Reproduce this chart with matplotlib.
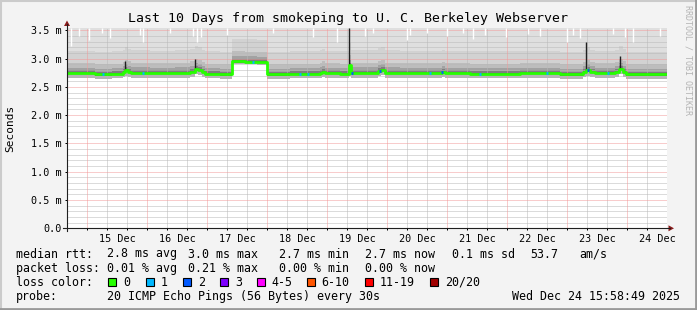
import numpy as np
import matplotlib.pyplot as plt
from matplotlib.patches import Rectangle, Polygon
from matplotlib.lines import Line2D

W, H = 697, 310
MONO = 'DejaVu Sans Mono'

# time axis: hours since Mon 14 Dec 16:00 (10 days shown)
med_t = [0, 11.2, 18, 22.4, 23.2, 24.4, 25.6, 33, 43, 49,
         51, 52.4, 54, 55, 61, 66, 71, 76, 80, 89,
         101, 102, 103.2, 109, 112.8, 113.6, 124.4, 125.6, 127, 133,
         150, 151.2, 161, 181, 197, 206.4, 207.6, 209, 211, 219,
         220.8, 222.4, 223.6]
# median rtt in ms
med_v = [2.74, 2.72, 2.73, 2.76, 2.80, 2.77, 2.75, 2.74, 2.75, 2.77,
         2.82, 2.80, 2.76, 2.73, 2.72, 2.95, 2.94, 2.935, 2.72, 2.73,
         2.75, 2.77, 2.74, 2.73, 2.88, 2.75, 2.78, 2.80, 2.75, 2.74,
         2.76, 2.74, 2.73, 2.74, 2.72, 2.76, 2.80, 2.76, 2.74, 2.76,
         2.82, 2.77, 2.72]
# fastest ping per interval (bottom of the smoke)
floor_v = [2.65, 2.64, 2.65, 2.67, 2.70, 2.68, 2.66, 2.65, 2.66, 2.68,
           2.72, 2.71, 2.67, 2.65, 2.64, 2.90, 2.90, 2.89, 2.64, 2.65,
           2.66, 2.68, 2.66, 2.65, 2.70, 2.66, 2.69, 2.71, 2.66, 2.65,
           2.67, 2.66, 2.65, 2.66, 2.64, 2.67, 2.70, 2.67, 2.66, 2.67,
           2.72, 2.68, 2.64]
# smoke bands above the median (offset in ms) and their shades
smoke_up = [0.02, 0.05, 0.10, 0.18, 0.40]
smoke_shade = ['#555555', '#7e7e7e', '#a2a2a2', '#bdbdbd', '#d2d2d2']
smoke_top_shade = '#dfdfdf'

# dark spikes (all pings slow)
spike_t = [23.2, 51.2, 112.8, 207.6, 221.0]
spike_v = [2.95, 3.00, 3.54, 3.30, 3.05]

# white gaps at the top of the smoke (max ping below the top)
gap_t = [1.6, 4.8, 8.8, 14, 17.2, 29.2, 30.4, 41.2, 50.4, 51.8, 53.6, 64,
         82.4, 98.4, 108, 119.2, 122.4, 136, 137.2, 144, 152, 158.4, 162.4,
         167.2, 175.6, 184.4, 189.2, 200, 202.4, 205.2, 218.4, 223.2, 226.4, 237.2]
gap_v = [3.22, 3.40, 3.33, 3.45, 3.36, 3.42, 3.30, 3.45, 3.40, 3.30, 3.38, 3.42,
         3.45, 3.38, 3.30, 3.40, 3.46, 3.32, 3.42, 3.45, 3.40, 3.45, 3.35,
         3.42, 3.38, 3.44, 3.40, 3.30, 3.42, 3.36, 3.44, 3.38, 3.30, 3.40]

# packet loss events on the median line
loss_t = [14.4, 30.4, 74.4, 93.2, 96.4, 114, 125.2, 145.2, 150, 165.2, 192, 208.4, 216.4]
loss_n = [1, 1, 1, 1, 1, 2, 2, 1, 2, 1, 1, 2, 1]

loss_labels = ['0', '1', '2', '3', '4-5', '6-10', '11-19', '20/20']
loss_colors = ['#26ff00', '#00b8ff', '#0059ff', '#7e00ff', '#ff00ff', '#ff5500', '#ff0000', '#a10000']

day_labels = ['15 Dec', '16 Dec', '17 Dec', '18 Dec', '19 Dec',
              '20 Dec', '21 Dec', '22 Dec', '23 Dec', '24 Dec']
y_ticks = [0.0, 0.5, 1.0, 1.5, 2.0, 2.5, 3.0, 3.5]
y_labels = ['0.0', '0.5 m', '1.0 m', '1.5 m', '2.0 m', '2.5 m', '3.0 m', '3.5 m']

T_END = 240
Y_TOP = 3.535


def px(x, y):
    return x / W, 1 - y / H


fig = plt.figure(figsize=(W / 100, H / 100), dpi=100, facecolor='#f3f3f3')
ax = fig.add_axes([67 / W, (H - 228.3) / H, 600 / W, 200 / H])
ax.set_facecolor('white')
ax.set_xlim(0, T_END)
ax.set_ylim(0, Y_TOP)

t = np.array(med_t + [T_END])
m = np.array(med_v + [med_v[-1]])
fl = np.array(floor_v + [floor_v[-1]])

# smoke below the median
ax.fill_between(t, fl, m - 0.02, step='post', color='#b4b4b4', lw=0, zorder=1)
ax.fill_between(t, m - 0.02, m, step='post', color='#606060', lw=0, zorder=1)
# smoke above the median
lo = m
for off, c in zip(smoke_up, smoke_shade):
    ax.fill_between(t, lo, m + off, step='post', color=c, lw=0, zorder=1)
    lo = m + off
ax.fill_between(t, lo, Y_TOP, step='post', color=smoke_top_shade, lw=0, zorder=1)

# grid
hours8 = np.arange(8, T_END, 8)
midnights = np.arange(8, T_END, 24)
minor_x = [h for h in hours8 if (h - 8) % 24 != 0]
ax.vlines(minor_x, 0, Y_TOP, color='#b8b8b8', lw=0.72, ls=(0, (1, 1)), zorder=2.5)
ax.vlines(midnights, 0, Y_TOP, color='#f39a9a', lw=0.72, ls=(0, (1, 1)), zorder=2.6)
tenths = np.round(np.arange(0.1, Y_TOP, 0.1), 2)
minor_y = [v for v in tenths if abs(v * 2 - round(v * 2)) > 1e-6]
ax.hlines(minor_y, 0, T_END, color='#b8b8b8', lw=0.72, ls=(0, (1, 1)), zorder=2.5)
ax.hlines(y_ticks[1:], 0, T_END, color='#f39a9a', lw=0.72, ls=(0, (1, 1)), zorder=2.6)

# white gaps and dark spikes
ax.vlines(gap_t, gap_v, Y_TOP, color='white', lw=1.0, zorder=2.7)
med_at = lambda q: m[np.searchsorted(t, q, side='right') - 1]
ax.vlines(spike_t, [med_at(q) for q in spike_t], spike_v, color='#202020', lw=1.0, zorder=2.8)

# median line coloured by loss
ax.step(t, m, where='post', color=loss_colors[0], lw=2.0, zorder=3)
for q, n in zip(loss_t, loss_n):
    v = med_at(q)
    ax.plot([q - 0.5, q + 0.5], [v, v], color=loss_colors[n], lw=2.0,
            solid_capstyle='butt', zorder=3.1)

# ticks
ax.set_xticks(midnights + 12, day_labels)
ax.set_xticks(hours8, minor=True)
ax.set_yticks(y_ticks, y_labels)
ax.tick_params(axis='x', which='major', length=0, pad=4.3, labelsize=7.3)
ax.tick_params(axis='x', which='minor', length=1.6, width=0.72, direction='out')
ax.tick_params(axis='y', length=1.6, width=0.72, pad=2.4, labelsize=7.3)
for lab in ax.get_xticklabels() + ax.get_yticklabels():
    lab.set_family(MONO)
for s in ax.spines.values():
    s.set_visible(False)

# axis lines with arrows
fig.add_artist(Line2D(*zip(px(67, 231), px(67, 24)), color='#1f1f1f', lw=0.8))
fig.add_artist(Line2D(*zip(px(63, 228.3), px(670, 228.3)), color='#1f1f1f', lw=0.8))
fig.add_artist(Polygon([px(67, 20.5), px(64, 26), px(70, 26)], closed=True,
                       transform=fig.transFigure, color='#8a1a1a', lw=0))
fig.add_artist(Polygon([px(674, 228.3), px(668.5, 225.3), px(668.5, 231.3)], closed=True,
                       transform=fig.transFigure, color='#8a1a1a', lw=0))

# titles
fig.text(*px(348.5, 18.5), 'Last 10 Days from smokeping to U. C. Berkeley Webserver',
         ha='center', va='center', family=MONO, size=9.55)
fig.text(*px(10, 128), 'Seconds', rotation=90, ha='center', va='center', family=MONO, size=8)
fig.text(*px(688, 5), 'RRDTOOL / TOBI OETIKER', rotation=270, ha='center', va='top',
         family=MONO, size=6, color='#b4b4b4')

# legend
rows = [254, 268.2, 282.4, 296.6]
fs = 8.35
line1 = [(16, 'median rtt:'), (107, '2.8 ms avg'), (188, '3.0 ms max'), (279, '2.7 ms min'),
         (365, '2.7 ms now'), (452, '0.1 ms sd'), (530, '53.7'), (579, 'am/s')]
line2 = [(16, 'packet loss:'), (107, '0.01 % avg'), (188, '0.21 % max'),
         (279, '0.00 % min'), (365, '0.00 % now')]
for x, s in line1:
    fig.text(*px(x, rows[0]), s, ha='left', va='center', family=MONO, size=fs)
for x, s in line2:
    fig.text(*px(x, rows[1]), s, ha='left', va='center', family=MONO, size=fs)
fig.text(*px(16, rows[2]), 'loss color:', ha='left', va='center', family=MONO, size=fs)
box_x = [108.3, 145.7, 182.7, 220, 256.7, 306.7, 365, 430]
for bx, lab, c in zip(box_x, loss_labels, loss_colors):
    fig.add_artist(Rectangle(px(bx, rows[2] + 4), 8 / W, 8 / H, transform=fig.transFigure,
                             facecolor=c, edgecolor='black', lw=0.8))
    fig.text(*px(bx + 15, rows[2]), lab, ha='left', va='center', family=MONO, size=fs)
fig.text(*px(16, rows[3]), 'probe:', ha='left', va='center', family=MONO, size=fs)
fig.text(*px(107, rows[3]), '20 ICMP Echo Pings (56 Bytes) every 30s',
         ha='left', va='center', family=MONO, size=fs)
fig.text(*px(680, rows[3]), 'Wed Dec 24 15:58:49 2025', ha='right', va='center',
         family=MONO, size=fs)

# 3d frame
fig.add_artist(Line2D(*zip(px(0.5, 0), px(0.5, H)), color='#cbcbcb', lw=1.5))
fig.add_artist(Line2D(*zip(px(0, 0.8), px(W, 0.8)), color='#cbcbcb', lw=1.5))
fig.add_artist(Line2D(*zip(px(W - 1.2, 0), px(W - 1.2, H)), color='#999999', lw=2))
fig.add_artist(Line2D(*zip(px(0, H - 1.2), px(W, H - 1.2)), color='#999999', lw=2))

fig.savefig('out.png', dpi=100, facecolor=fig.get_facecolor())
